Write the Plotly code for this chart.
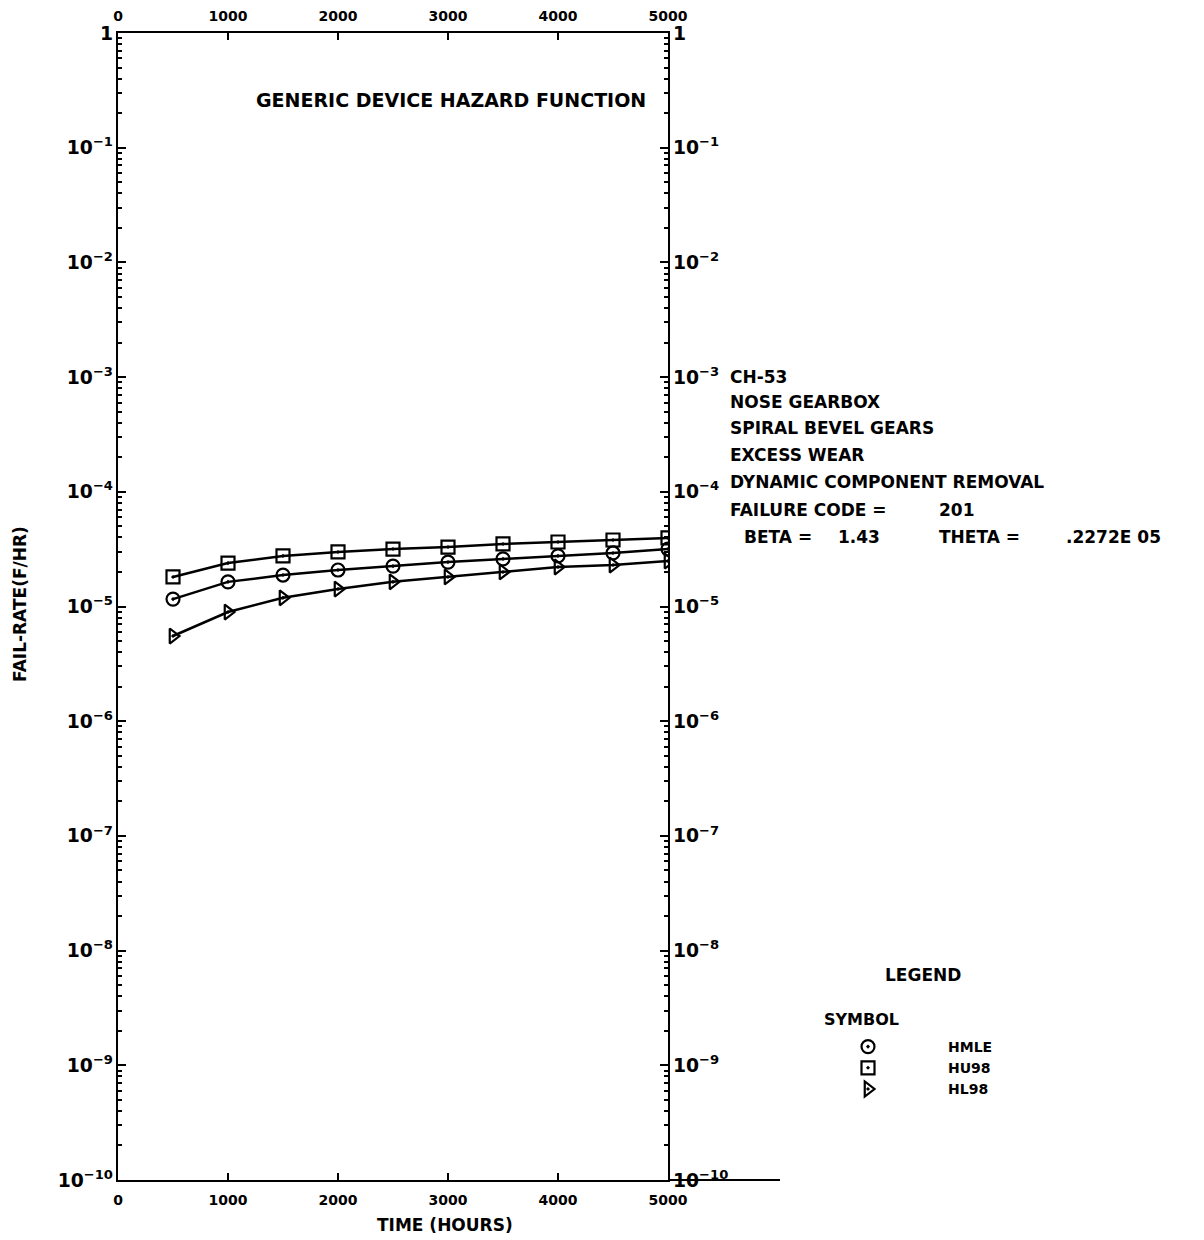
import plotly.graph_objects as go

# ---- data ----
time_hours = [500, 1000, 1500, 2000, 2500, 3000, 3500, 4000, 4500, 5000]
hmle = [1.16e-5, 1.64e-5, 1.88e-5, 2.08e-5, 2.25e-5, 2.44e-5, 2.60e-5, 2.76e-5, 2.93e-5, 3.17e-5]
hu98 = [1.81e-5, 2.39e-5, 2.76e-5, 2.99e-5, 3.17e-5, 3.30e-5, 3.51e-5, 3.65e-5, 3.80e-5, 3.96e-5]
hl98 = [5.53e-6, 8.95e-6, 1.19e-5, 1.42e-5, 1.64e-5, 1.81e-5, 2.00e-5, 2.21e-5, 2.30e-5, 2.49e-5]

series_names = ["HMLE", "HU98", "HL98"]
series_values = [hmle, hu98, hl98]
series_symbols = ["circle-open-dot", "square-open-dot", "triangle-right-open-dot"]

# text block: (text, left-x px, centre-y px)
info_segments = [
    ("CH-53", 728, 377),
    ("NOSE GEARBOX", 728, 402),
    ("SPIRAL BEVEL GEARS", 728, 428),
    ("EXCESS WEAR", 728, 455),
    ("DYNAMIC COMPONENT REMOVAL", 728, 482),
    ("FAILURE CODE =", 728, 510),
    ("201", 937, 510),
    ("BETA =", 742, 537),
    ("1.43", 836, 537),
    ("THETA =", 937, 537),
    (".2272E 05", 1064, 537),
]

FONT = "DejaVu Sans"
W, H = 1204, 1240
L, R, T, B = 118, 668, 33, 1180  # plot area in px


def px_x(px):
    return (px - L) / (R - L)


def px_y(py):
    return (B - py) / (B - T)


def bold(size):
    return dict(family=FONT, size=size, color="black", weight="bold")


fig = go.Figure()

# connecting lines drawn on the mirrored (top/right) axes, markers on the main axes
for name, vals in zip(series_names, series_values):
    fig.add_trace(go.Scatter(
        x=time_hours, y=vals, mode="lines", showlegend=False,
        xaxis="x2", yaxis="y2",
        line=dict(color="black", width=2.5), hoverinfo="skip"))
for name, vals, sym in zip(series_names, series_values, series_symbols):
    fig.add_trace(go.Scatter(
        x=time_hours, y=vals, mode="markers", name=name,
        marker=dict(symbol=sym, size=13, color="black",
                    line=dict(color="black", width=2.2))))

yaxis_common = dict(
    type="log", range=[-10, 0], dtick=1, exponentformat="power",
    showline=True, linecolor="black", linewidth=2,
    ticks="inside", ticklen=8, tickwidth=1.5, tickcolor="black",
    minor=dict(ticks="inside", ticklen=4, tickcolor="black", dtick="D1", showgrid=False),
    showgrid=False, zeroline=False, tickfont=bold(15), automargin=False,
)
xaxis_common = dict(
    range=[0, 5000], dtick=1000, tick0=0,
    showline=True, linecolor="black", linewidth=2,
    ticks="inside", ticklen=7, tickwidth=1.5, tickcolor="black",
    showgrid=False, zeroline=False, tickfont=bold(14), automargin=False,
)

fig.update_layout(
    width=W, height=H,
    margin=dict(l=L, r=W - R, t=T, b=H - B, pad=0, autoexpand=False),
    plot_bgcolor="white", paper_bgcolor="white",
    xaxis=dict(**xaxis_common, ticklabelstandoff=6),
    xaxis2=dict(**xaxis_common, overlaying="x", side="top", matches="x", anchor="y",
                ticklabelstandoff=4),
    yaxis=dict(**yaxis_common),
    yaxis2=dict(**yaxis_common, overlaying="y", side="right", matches="y", anchor="x"),
    showlegend=True,
    legend=dict(
        x=px_x(788), y=px_y(1031), xanchor="left", yanchor="top",
        itemwidth=150, font=bold(14),
        bgcolor="rgba(0,0,0,0)", borderwidth=0, tracegroupgap=0,
    ),
)

# extension of bottom axis line past the right axis
fig.add_shape(type="line", xref="paper", yref="paper",
              x0=1, x1=px_x(780), y0=0, y1=0,
              line=dict(color="black", width=2))

fig.add_annotation(text="GENERIC DEVICE HAZARD FUNCTION", xref="paper", yref="paper",
                   x=px_x(451), y=px_y(100), showarrow=False, font=bold(19),
                   xanchor="center", yanchor="middle")

for txt, xx, yy in info_segments:
    fig.add_annotation(text=txt, xref="paper", yref="paper",
                       x=px_x(xx), y=px_y(yy), showarrow=False, font=bold(17),
                       xanchor="left", yanchor="middle")

fig.add_annotation(text="LEGEND", xref="paper", yref="paper",
                   x=px_x(923), y=px_y(975), showarrow=False, font=bold(17),
                   xanchor="center", yanchor="middle")
fig.add_annotation(text="SYMBOL", xref="paper", yref="paper",
                   x=px_x(822), y=px_y(1019), showarrow=False, font=bold(16),
                   xanchor="left", yanchor="middle")

fig.add_annotation(text="FAIL-RATE(F/HR)", xref="paper", yref="paper",
                   x=px_x(20), y=px_y(604), showarrow=False, textangle=-90,
                   font=bold(17), xanchor="center", yanchor="middle")
fig.add_annotation(text="TIME (HOURS)", xref="paper", yref="paper",
                   x=px_x(445), y=px_y(1225), showarrow=False,
                   font=bold(17), xanchor="center", yanchor="middle")

fig.write_html("out.html")
